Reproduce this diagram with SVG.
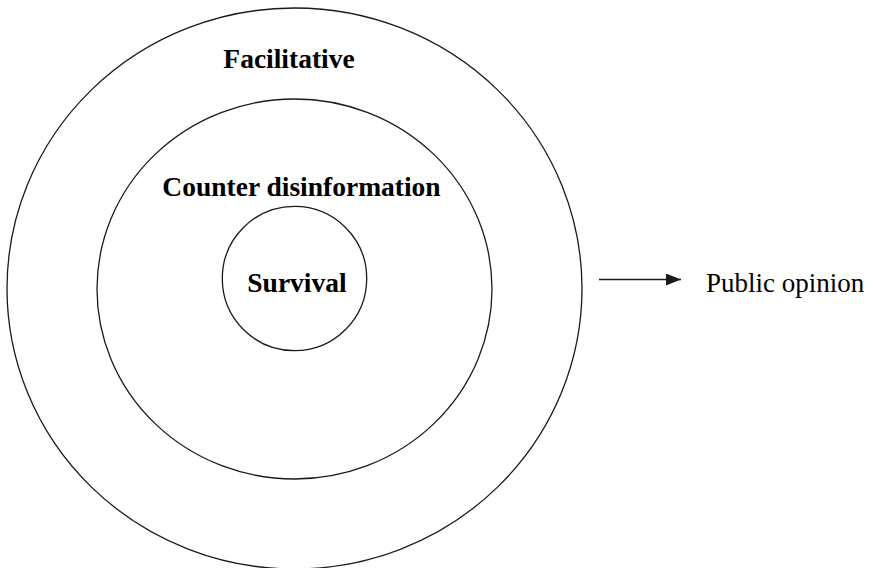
<svg xmlns="http://www.w3.org/2000/svg" width="873" height="568" viewBox="0 0 873 568">
<style>
.ring{fill:none;stroke:#1a1a1a;stroke-width:1.3}
.lb{font-family:"Liberation Serif","Times New Roman",serif;font-weight:bold;font-size:27.5px;fill:#000;text-anchor:middle}
.rg{font-family:"Liberation Serif","Times New Roman",serif;font-size:27px;fill:#000}
</style>
<defs>
<marker id="ah" markerWidth="15" markerHeight="12" refX="15" refY="6" orient="auto" markerUnits="userSpaceOnUse">
<path d="M0,0 L15,6 L0,12 Z" fill="#1a1a1a"/>
</marker>
</defs>
<rect width="873" height="568" fill="#fff"/>
<g id="facilitative">
<ellipse class="ring" cx="294.5" cy="288.5" rx="287.5" ry="280.5"/>
<text class="lb" x="289" y="68">Facilitative</text>
</g>
<g id="counter-disinformation">
<ellipse class="ring" cx="294.5" cy="289" rx="197.5" ry="190"/>
<text class="lb" x="301.5" y="196">Counter disinformation</text>
</g>
<g id="survival">
<circle class="ring" cx="294.5" cy="278.5" r="72.2"/>
<text class="lb" x="297" y="292">Survival</text>
</g>
<g id="public-opinion">
<text class="rg" x="706" y="292">Public opinion</text>
</g>
<g id="connectors">
<line x1="599" y1="279.5" x2="681" y2="279.5" stroke="#1a1a1a" stroke-width="1.4" marker-end="url(#ah)"/>
</g>
</svg>
